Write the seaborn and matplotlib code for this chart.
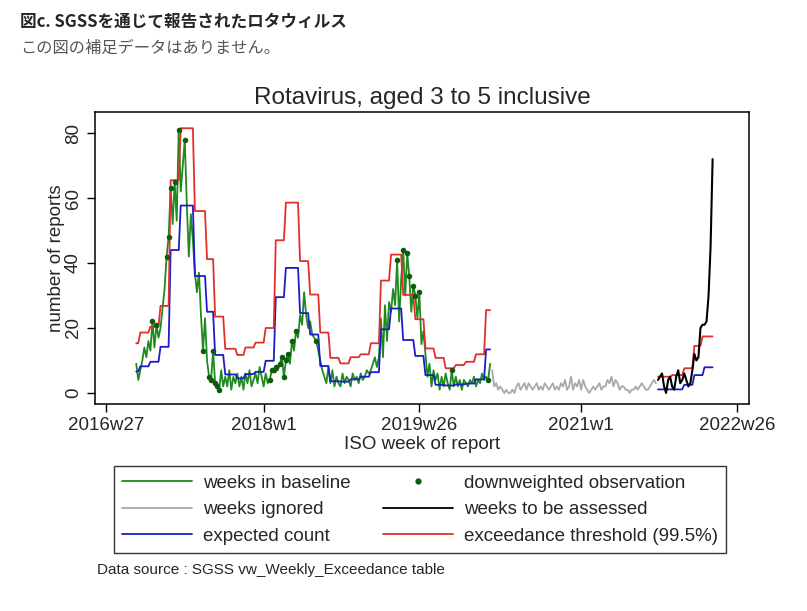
import numpy as np
import pandas as pd
import matplotlib
matplotlib.use("Agg")
import matplotlib.pyplot as plt
import seaborn as sns
from matplotlib.lines import Line2D

# x values are ISO weeks counted from 2016w27
tick_weeks = [0, 78, 155, 235, 312]
tick_labels = ["2016w27", "2018w1", "2019w26", "2021w1", "2022w26"]

# weeks in baseline (from week 15)
baseline_start = 15
baseline_counts = [
    9, 4, 7, 10, 14, 11, 16, 13, 22, 14, 21, 17, 20, 26, 32,
    42, 48, 63, 52, 65, 53, 81, 62, 70, 78, 58, 42, 55, 47, 37, 31, 37, 24, 13, 23, 10, 5, 4, 13, 3, 2, 1,
    7, 2, 5, 2, 7, 1, 5, 3, 6, 2, 5, 1, 6, 3, 7, 2, 4, 6, 3, 8, 5, 2, 6, 3,
    4, 7, 7, 8, 7, 9, 11, 5, 10, 12, 9, 16, 13, 19, 17, 24, 21, 31, 24, 20, 22, 18, 17, 16, 13,
    10, 7, 5, 3, 8, 3, 7, 2, 5, 3, 2, 6, 3, 5, 4, 2, 6, 4, 5, 3, 6, 4, 5, 7, 6, 7, 9, 11, 8,
    11, 23, 11, 27, 16, 28, 25, 32, 27, 41, 22, 35, 44, 30, 43, 36, 25, 33, 30, 23, 31, 15, 19, 12,
    5, 9, 2, 7, 4, 6, 1, 5, 2, 6, 3, 1, 7, 2, 5, 2, 4, 1, 4, 3, 2, 4, 3, 5, 2, 4, 3, 6, 4, 5, 4, 9,
]
downweighted_weeks = [23, 25, 30, 31, 32, 34, 36, 39, 48, 51, 52, 53, 54, 55, 56,
                      81, 82, 83, 84, 86, 87, 88, 89, 90, 92, 94, 104,
                      144, 147, 149, 150, 152, 153, 155, 171, 189]

# weeks ignored
ignored_start = 191
ignored_counts = [
    7, 2, 3, 1, 2, 1, 0, 1, 0, 0, 1, 0, 2, 3, 1, 2, 3, 1, 3, 2, 1, 2, 3, 1, 2, 1, 3, 2,
    1, 2, 3, 1, 2, 1, 3, 2, 4, 1, 2, 5, 1, 3, 2, 4, 1, 4, 2, 1, 0, 1, 2, 1, 2, 3, 1, 2,
    2, 4, 3, 5, 2, 4, 3, 1, 2, 2, 1, 1, 0, 1, 1, 2, 1, 2, 3, 2, 1, 1, 2, 3, 4, 3,
]

# weeks to be assessed
assessed_start = 273
assessed_counts = [4, 5, 6, 2, 0, 4, 5, 2, 1, 5, 7, 3, 4, 6, 4, 2, 3, 7, 12, 10,
                   11, 20, 21, 21, 22, 30, 45, 72]

# expected count and threshold, constant over blocks of weeks
block_starts = [15, 17, 22, 27, 32, 37, 44, 50, 54, 59, 65, 69, 74, 79, 84, 89, 96, 101,
                106, 111, 116, 121, 126, 131, 136, 141, 147, 153, 158, 163, 168, 173, 178, 183, 188]
block_end = 191
expected_blocks = [6.6, 8.2, 9.6, 14.2, 44, 57.7, 36, 25, 11.7, 5.7, 4.5, 5.8, 6.5, 9.9, 29.5,
                   38.5, 24.6, 18, 8.3, 3.6, 3.5, 4.2, 5, 6.4, 19.6, 26, 16.3, 11.4, 5.5, 2.5,
                   2.3, 2.6, 2.9, 4.2, 13.4]
threshold_blocks = [15.3, 18.6, 20.4, 26.8, 65.5, 81.5, 56, 41.2, 23.5, 13.6, 11.7, 14, 15.5, 20,
                    47, 58.6, 40.6, 30.3, 18.6, 10.8, 9.1, 11, 11.9, 15.3, 34.6, 42.6, 30.2, 22.7,
                    13.7, 10.8, 7.6, 8.6, 9.6, 11.9, 25.5]

assess_end = 301
assess_exp_starts = [273, 286, 291, 296]
assess_exp_blocks = [1.1, 2.5, 5.5, 7.9]
assess_thr_starts = [273, 280, 286, 291, 295]
assess_thr_blocks = [5.0, 5.5, 7.6, 14.5, 17.4]


def expand(starts, end, vals):
    lengths = np.diff(list(starts) + [end])
    return np.arange(starts[0], end), np.repeat(vals, lengths)


def series(start, vals):
    return pd.DataFrame({"week": np.arange(start, start + len(vals)), "count": vals})


sns.set_style("white")
plt.rcParams['font.family'] = ['Liberation Sans', 'Noto Sans CJK JP', 'DejaVu Sans']

GREEN = '#1f8a1f'
DOT = '#0d5c0d'
GRAY = '#a9a9a9'
BLUE = '#1c1cc8'
RED = '#e0302c'

fig = plt.figure(figsize=(8.07, 6.11), dpi=100)
ax = fig.add_axes([95 / 807, 1 - 404 / 611, 654 / 807, 292 / 611])

df_base = series(baseline_start, baseline_counts)
df_ign = series(ignored_start, ignored_counts)
df_ass = series(assessed_start, assessed_counts)

sns.lineplot(data=df_base, x="week", y="count", color=GREEN, lw=1.3, ax=ax, estimator=None)
sns.lineplot(data=df_ign, x="week", y="count", color=GRAY, lw=1.3, ax=ax, estimator=None)

for starts, end, vals, col in [
    (block_starts, block_end, expected_blocks, BLUE),
    (assess_exp_starts, assess_end, assess_exp_blocks, BLUE),
    (block_starts, block_end, threshold_blocks, RED),
    (assess_thr_starts, assess_end, assess_thr_blocks, RED),
]:
    wk, vv = expand(starts, end, vals)
    sns.lineplot(x=wk, y=vv, color=col, lw=1.3, ax=ax, estimator=None)

sns.lineplot(data=df_ass, x="week", y="count", color='black', lw=1.5, ax=ax, estimator=None)

df_dots = df_base[df_base["week"].isin(downweighted_weeks)]
sns.scatterplot(data=df_dots, x="week", y="count", color=DOT, s=16, edgecolor=DOT,
                linewidth=0, ax=ax, zorder=5)

ax.set_xlim(-5.4, 318)
ax.set_ylim(-3.4, 86.5)
ax.set_xticks(tick_weeks)
ax.set_xticklabels(tick_labels)
ax.set_yticks([0, 20, 40, 60, 80])
ax.tick_params(axis='both', direction='out', length=6, width=1, labelsize=13.5,
               bottom=True, left=True, color='black')
for lab in ax.get_yticklabels():
    lab.set_rotation(90)
    lab.set_va('center')
ax.set_xlabel("ISO week of report", fontsize=13.5, labelpad=1)
ax.set_ylabel("number of reports", fontsize=13.5, labelpad=0)
ax.set_title("Rotavirus, aged 3 to 5 inclusive", fontsize=17.5, pad=6)
for sp in ax.spines.values():
    sp.set_color('black')
    sp.set_linewidth(1.1)

handles = [
    Line2D([], [], color=GREEN, lw=1.3),
    Line2D([], [], color=GRAY, lw=1.3),
    Line2D([], [], color=BLUE, lw=1.3),
    Line2D([], [], color=DOT, marker='o', ls='none', markersize=3.5),
    Line2D([], [], color='black', lw=1.3),
    Line2D([], [], color=RED, lw=1.3),
]
labels = ["weeks in baseline", "weeks ignored", "expected count",
          "downweighted observation", "weeks to be assessed", "exceedance threshold (99.5%)"]
leg = fig.legend(handles, labels, ncol=2, loc='upper center',
                 bbox_to_anchor=(420 / 807, 1 - 466 / 611), frameon=True, fancybox=False,
                 edgecolor='black', fontsize=13.5, handlelength=3.7, handletextpad=0.6,
                 columnspacing=1.75, labelspacing=0.5, borderpad=0.45, borderaxespad=0)
leg.get_frame().set_linewidth(1.0)

fig.text(97 / 807, 1 - 570 / 611, "Data source : SGSS vw_Weekly_Exceedance table",
         fontsize=11, va='center', ha='left')

fig.text(20 / 807, 1 - 22 / 611, "図c. SGSSを通じて報告されたロタウィルス", fontsize=12,
         fontweight='bold', va='center', ha='left', family=['Noto Sans CJK JP', 'DejaVu Sans'])
fig.text(20 / 807, 1 - 48 / 611, "この図の補足データはありません。", fontsize=11.7, color='#555555',
         va='center', ha='left', family=['Noto Sans CJK JP', 'DejaVu Sans'])

fig.savefig("out.png", dpi=100)
